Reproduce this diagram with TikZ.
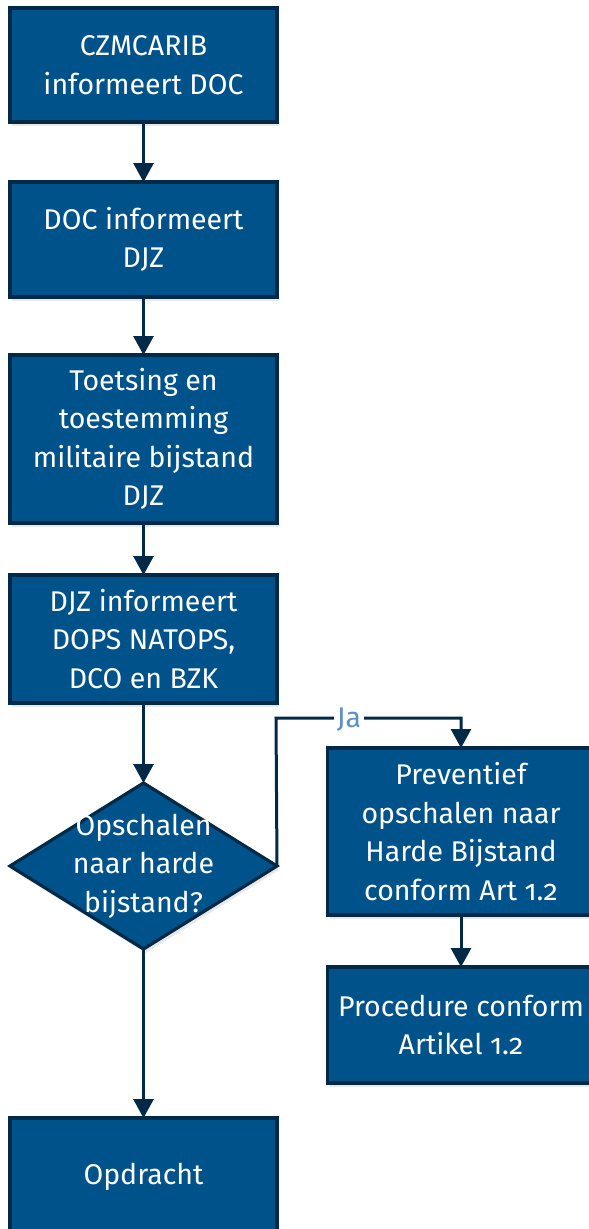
\documentclass[tikz,border=0pt]{standalone}
\usepackage{fontspec}
\setmainfont[Numbers=OldStyle]{Fira Sans}
\usetikzlibrary{arrows.meta,shapes.geometric,shadows}
\definecolor{boxfill}{HTML}{00538A}
\definecolor{boxline}{HTML}{022A46}
\definecolor{jacol}{HTML}{5B8FC7}
\begin{document}
\begin{tikzpicture}[x=1pt,y=-1pt,
  every node/.style={inner sep=0pt,outer sep=0pt},
  txt/.style={text=white,align=center,font=\fontsize{28.5}{38.5}\selectfont},
  boxshadow/.style={drop shadow={opacity=0.18,shadow xshift=2pt,shadow yshift=-4pt}},
  flowbox/.style={txt,draw=boxline,fill=boxfill,line width=3.2pt,minimum width=267pt,boxshadow},
  flowdia/.style={diamond,draw=boxline,fill=boxfill,line width=3.2pt,minimum width=267pt,minimum height=166pt,boxshadow},
  conn/.style={draw=boxline,line width=3pt,-{Triangle[width=20pt,length=19pt]}},
  jalabel/.style={fill=white,text=jacol,inner xsep=3pt,font=\fontsize{28.5}{30}\selectfont}]
\useasboundingbox (0,0) rectangle (589,1229);
\clip (0,0) rectangle (589,1229);
\node[flowbox,minimum height=114pt] (b1) at (143.5,65) {CZMCARIB\\informeert DOC};
\node[flowbox,minimum height=115pt] (b2) at (143.5,239.5) {DOC informeert\\DJZ};
\node[flowbox,minimum height=168pt] (b3) at (143.5,439) {Toetsing en\\toestemming\\militaire bijstand\\DJZ};
\node[flowbox,minimum height=128pt] (b4) at (143.5,639) {DJZ informeert\\DOPS NATOPS,\\DCO en BZK};
\node[flowdia] (d) at (143.5,866) {};
\node[txt] (dt) at (d.center) {Opschalen\\naar harde\\bijstand?};
\node[flowbox,minimum height=167pt] (p1) at (461,831.5) {Preventief\\opschalen naar\\Harde Bijstand\\conform Art 1.2};
\node[flowbox,minimum height=116pt] (p2) at (461,1025) {Procedure conform\\Artikel 1.2};
\node[flowbox,minimum height=118pt] (b5) at (143.5,1177) {Opdracht};
\coordinate (c1) at (276,718);
\coordinate (c2) at (461,718);
\draw[conn] (b1.south) -- (b2.north);
\draw[conn] (b2.south) -- (b3.north);
\draw[conn] (b3.south) -- (b4.north);
\draw[conn] (b4.south) -- (d.north);
\draw[conn] (d.south) -- (b5.north);
\draw[conn] (p1.south) -- (p2.north);
\draw[conn] (d.east) -- (c1) -- (c2) -- (p1.north);
\node[jalabel] (ja) at (349,720) {Ja};
\end{tikzpicture}
\end{document}
